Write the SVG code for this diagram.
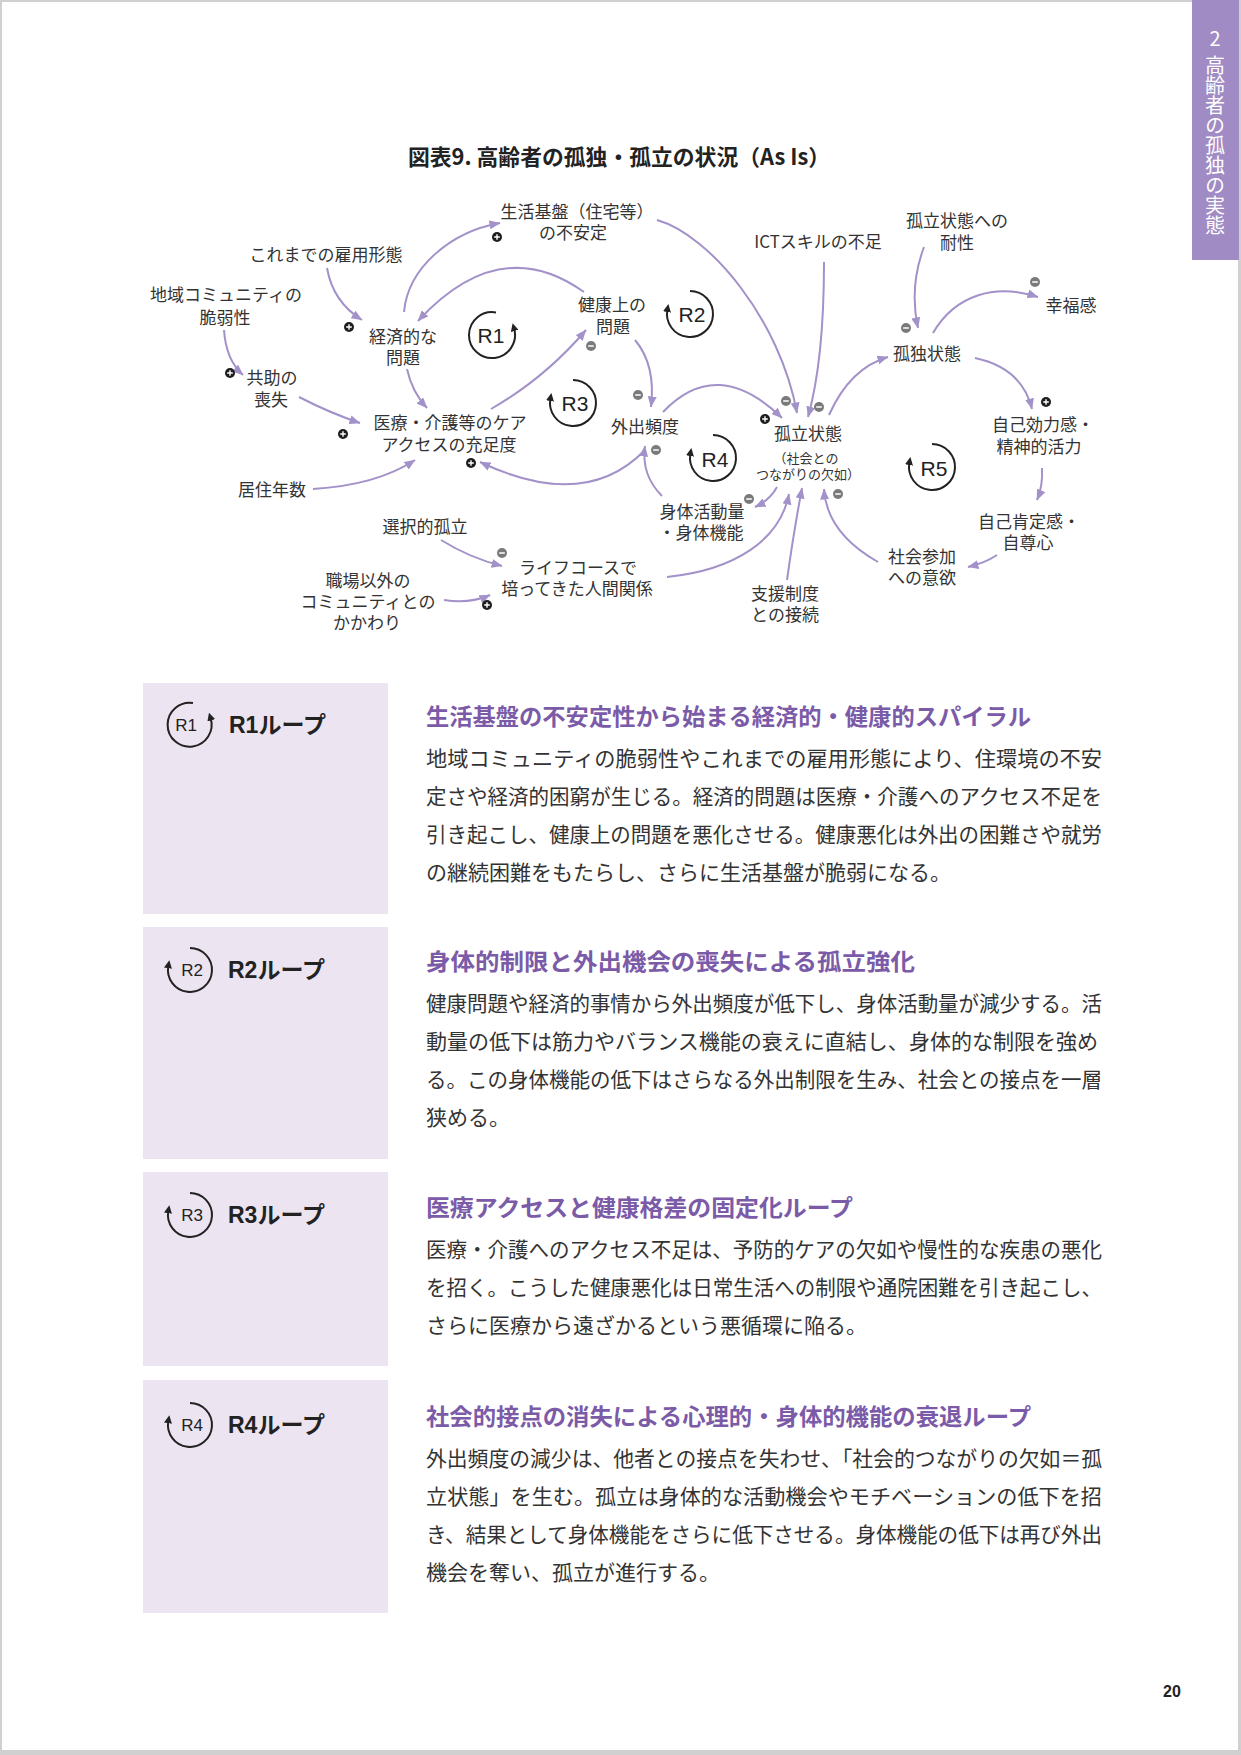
<svg xmlns="http://www.w3.org/2000/svg" width="1241" height="1755" viewBox="0 0 1241 1755">
<style>
.t{font-family:"Noto Sans CJK JP","Noto Sans CJK SC",sans-serif;font-size:17px;fill:#333;text-anchor:middle}
.ts{font-size:13px}
.c{fill:none;stroke:#a391c9;stroke-width:2;marker-end:url(#ah)}
.lp{fill:none;stroke:#222;stroke-width:2;marker-end:url(#lah)}
.rl{font-family:"Liberation Sans",Arial,sans-serif;font-size:21px;fill:#222;text-anchor:middle}
.ri{font-family:"Liberation Sans",Arial,sans-serif;font-size:17px;fill:#222;text-anchor:middle}
.box{fill:#ece4f0}
.lab{font-family:"Liberation Sans","Noto Sans CJK JP",sans-serif;font-size:23px;font-weight:700;fill:#222}
.h{font-family:"Noto Sans CJK JP",sans-serif;font-size:23px;font-weight:700;fill:#7b5ba8}
.b{font-family:"Noto Sans CJK JP",sans-serif;font-size:21px;fill:#333}
</style>
<defs>
<marker id="ah" viewBox="0 0 11 9" refX="10.5" refY="4.5" markerWidth="11" markerHeight="9" markerUnits="userSpaceOnUse" orient="auto"><path d="M0,0 L11,4.5 L0,9 z" fill="#a391c9"/></marker>
<marker id="lah" viewBox="0 0 8 8" refX="2" refY="4" markerWidth="8" markerHeight="8" markerUnits="userSpaceOnUse" orient="auto"><path d="M0,0 L8,4 L0,8 z" fill="#222"/></marker>
<g id="pl"><circle r="5" fill="#1e1e1e"/><path d="M-2.8,0H2.8M0,-2.8V2.8" stroke="#fff" stroke-width="1.4"/></g>
<g id="mi"><circle r="5" fill="#7a7a7a"/><path d="M-2.8,0H2.8" stroke="#fff" stroke-width="1.5"/></g>
</defs>

<rect x="0" y="0" width="1241" height="1755" fill="#d0d0d0"/>
<rect x="2" y="2" width="1236" height="1748" fill="#fff"/>

<g id="tab">
<rect x="1192" y="0" width="47" height="260" fill="#a18bc4"/>
<text x="1215" y="46" font-family="Noto Sans CJK JP,sans-serif" font-size="20" fill="#fff" text-anchor="middle">2</text>
<text x="1215" y="55" font-family="Noto Sans CJK JP,sans-serif" font-size="20" fill="#fff" style="writing-mode:vertical-rl;text-orientation:upright">高齢者の孤独の実態</text>
</g>

<text id="title" x="408" y="165" font-family="Noto Sans CJK JP,sans-serif" font-size="22" font-weight="700" fill="#222" textLength="422" lengthAdjust="spacingAndGlyphs">図表9. 高齢者の孤独・孤立の状況（As Is）</text>

<g id="connectors">
<path class="c" d="M327,268 Q333,302 362,320"/>
<path class="c" d="M224,330 Q226,360 243,375"/>
<path class="c" d="M299,397 Q330,413 360,423"/>
<path class="c" d="M313,489 Q377,485 415,460"/>
<path class="c" d="M407,369 Q412,392 427,408"/>
<path class="c" d="M404,312 C408,268 450,232 500,223"/>
<path class="c" d="M584,292 Q500,232 418,321"/>
<path class="c" d="M491,409 Q545,378 586,330"/>
<path class="c" d="M635,340 Q656,365 651,407"/>
<path class="c" d="M645,450 Q585,512 480,462"/>
<path class="c" d="M662,496 Q641,475 645,446"/>
<path class="c" d="M663,412 Q717,355 782,418"/>
<path class="c" d="M657,220 C710,235 780,320 797,413"/>
<path class="c" d="M824,262 Q824,360 808,417"/>
<path class="c" d="M829,415 Q850,368 888,357"/>
<path class="c" d="M924,247 Q909,287 918,328"/>
<path class="c" d="M933,333 C955,295 995,283 1038,297"/>
<path class="c" d="M975,358 Q1022,368 1032,409"/>
<path class="c" d="M1042,468 Q1043,486 1037,500"/>
<path class="c" d="M997,555 Q985,563 968,567"/>
<path class="c" d="M878,562 C848,545 826,522 824,489"/>
<path class="c" d="M777,487 Q770,500 755,507"/>
<path class="c" d="M667,577 C735,570 780,540 789,494"/>
<path class="c" d="M787,580 Q794,530 802,488"/>
<path class="c" d="M441,540 Q470,558 502,566"/>
<path class="c" d="M444,600 Q470,604 490,595"/>
</g>

<g id="signs">
<use href="#pl" x="497" y="237"/>
<use href="#pl" x="349" y="327"/>
<use href="#pl" x="230" y="373"/>
<use href="#pl" x="343" y="434"/>
<use href="#pl" x="471" y="463"/>
<use href="#mi" x="591" y="346"/>
<use href="#mi" x="638" y="395"/>
<use href="#mi" x="656" y="450"/>
<use href="#mi" x="786" y="401"/>
<use href="#mi" x="819" y="407"/>
<use href="#pl" x="765" y="419"/>
<use href="#mi" x="906" y="328"/>
<use href="#mi" x="1035" y="282"/>
<use href="#pl" x="1046" y="402"/>
<use href="#mi" x="749" y="499"/>
<use href="#mi" x="838" y="494"/>
<use href="#mi" x="502" y="553"/>
<use href="#pl" x="487" y="605"/>
</g>

<g id="loops">
<g id="R1"><path class="lp" d="M496,312.4 A23,23 0 1 0 514.2,329"/><text class="rl" x="491" y="342.5">R1</text></g>
<g id="R2"><path class="lp" d="M690,291 A23,23 0 1 1 667.35,310"/><text class="rl" x="692" y="321.5">R2</text></g>
<g id="R3"><path class="lp" d="M573,380 A23,23 0 1 1 550.35,399"/><text class="rl" x="575" y="410.5">R3</text></g>
<g id="R4"><path class="lp" d="M713,435 A23,23 0 1 1 690.35,454"/><text class="rl" x="715" y="466.5">R4</text></g>
<g id="R5"><path class="lp" d="M932,444 A23,23 0 1 1 909.35,463"/><text class="rl" x="934" y="475.5">R5</text></g>
</g>

<g id="n_seikatsu"><text class="t" x="577" y="218">生活基盤（住宅等）<tspan x="573" dy="21">の不安定</tspan></text></g>
<g id="n_koyou"><text class="t" x="326" y="261">これまでの雇用形態</text></g>
<g id="n_chiiki"><text class="t" x="226" y="301">地域コミュニティの<tspan x="225" dy="23">脆弱性</tspan></text></g>
<g id="n_keizai"><text class="t" x="403" y="343">経済的な<tspan x="403" dy="21">問題</tspan></text></g>
<g id="n_kyojo"><text class="t" x="272" y="384">共助の<tspan x="271" dy="22">喪失</tspan></text></g>
<g id="n_iryo"><text class="t" x="450" y="429">医療・介護等のケア<tspan x="449" dy="22">アクセスの充足度</tspan></text></g>
<g id="n_kyoju"><text class="t" x="272" y="496">居住年数</text></g>
<g id="n_kenko"><text class="t" x="612" y="311">健康上の<tspan x="613" dy="22">問題</tspan></text></g>
<g id="n_gaishutsu"><text class="t" x="645" y="433">外出頻度</text></g>
<g id="n_ict"><text class="t" x="818" y="248">ICTスキルの不足</text></g>
<g id="n_taisei"><text class="t" x="957" y="227">孤立状態への<tspan x="957" dy="22">耐性</tspan></text></g>
<g id="n_koritsu"><text class="t" x="808" y="440">孤立状態<tspan class="ts" x="806" dy="23">（社会との</tspan><tspan class="ts" x="808" dy="16">つながりの欠如）</tspan></text></g>
<g id="n_kodoku"><text class="t" x="927" y="360">孤独状態</text></g>
<g id="n_kofuku"><text class="t" x="1071" y="312">幸福感</text></g>
<g id="n_jiko"><text class="t" x="1043" y="431">自己効力感・<tspan x="1039" dy="22">精神的活力</tspan></text></g>
<g id="n_kotei"><text class="t" x="1029" y="528">自己肯定感・<tspan x="1028" dy="21">自尊心</tspan></text></g>
<g id="n_sanka"><text class="t" x="922" y="563">社会参加<tspan x="922" dy="21">への意欲</tspan></text></g>
<g id="n_shintai"><text class="t" x="702" y="518">身体活動量<tspan x="701" dy="21">・身体機能</tspan></text></g>
<g id="n_shien"><text class="t" x="785" y="600">支援制度<tspan x="785" dy="21">との接続</tspan></text></g>
<g id="n_sentaku"><text class="t" x="425" y="533">選択的孤立</text></g>
<g id="n_lifecourse"><text class="t" x="578" y="574">ライフコースで<tspan x="577" dy="21">培ってきた人間関係</tspan></text></g>
<g id="n_shokuba"><text class="t" x="368" y="587">職場以外の<tspan x="368" dy="21">コミュニティとの</tspan><tspan x="367" dy="21">かかわり</tspan></text></g>

<g id="sec1">
<rect class="box" x="143" y="683" width="245" height="231"/>
<path class="lp" d="M193,703 A22,22 0 1 0 210.7,718.4"/><text class="ri" x="186" y="731">R1</text>
<text class="lab" x="229" y="733">R1ループ</text>
<text class="h" x="426" y="725" textLength="605" lengthAdjust="spacingAndGlyphs">生活基盤の不安定性から始まる経済的・健康的スパイラル</text>
<text class="b" x="426" y="766" textLength="676" lengthAdjust="spacingAndGlyphs">地域コミュニティの脆弱性やこれまでの雇用形態により、住環境の不安</text>
<text class="b" x="426" y="804" textLength="676" lengthAdjust="spacingAndGlyphs">定さや経済的困窮が生じる。経済的問題は医療・介護へのアクセス不足を</text>
<text class="b" x="426" y="842" textLength="676" lengthAdjust="spacingAndGlyphs">引き起こし、健康上の問題を悪化させる。健康悪化は外出の困難さや就労</text>
<text class="b" x="426" y="880">の継続困難をもたらし、さらに生活基盤が脆弱になる。</text>
</g>

<g id="sec2">
<rect class="box" x="143" y="927" width="245" height="232"/>
<path class="lp" d="M190,948 A22,22 0 1 1 168.3,966.2"/><text class="ri" x="192" y="976">R2</text>
<text class="lab" x="228" y="978">R2ループ</text>
<text class="h" x="426" y="970" textLength="489" lengthAdjust="spacingAndGlyphs">身体的制限と外出機会の喪失による孤立強化</text>
<text class="b" x="426" y="1011" textLength="676" lengthAdjust="spacingAndGlyphs">健康問題や経済的事情から外出頻度が低下し、身体活動量が減少する。活</text>
<text class="b" x="426" y="1049" textLength="672" lengthAdjust="spacingAndGlyphs">動量の低下は筋力やバランス機能の衰えに直結し、身体的な制限を強め</text>
<text class="b" x="426" y="1087" textLength="676" lengthAdjust="spacingAndGlyphs">る。この身体機能の低下はさらなる外出制限を生み、社会との接点を一層</text>
<text class="b" x="426" y="1125">狭める。</text>
</g>

<g id="sec3">
<rect class="box" x="143" y="1172" width="245" height="194"/>
<path class="lp" d="M190,1193 A22,22 0 1 1 168.3,1211.2"/><text class="ri" x="192" y="1221">R3</text>
<text class="lab" x="228" y="1223">R3ループ</text>
<text class="h" x="426" y="1216" textLength="427" lengthAdjust="spacingAndGlyphs">医療アクセスと健康格差の固定化ループ</text>
<text class="b" x="426" y="1257" textLength="676" lengthAdjust="spacingAndGlyphs">医療・介護へのアクセス不足は、予防的ケアの欠如や慢性的な疾患の悪化</text>
<text class="b" x="426" y="1295" textLength="676" lengthAdjust="spacingAndGlyphs">を招く。こうした健康悪化は日常生活への制限や通院困難を引き起こし、</text>
<text class="b" x="426" y="1333">さらに医療から遠ざかるという悪循環に陥る。</text>
</g>

<g id="sec4">
<rect class="box" x="143" y="1380" width="245" height="233"/>
<path class="lp" d="M190,1403 A22,22 0 1 1 168.3,1421.2"/><text class="ri" x="192" y="1431">R4</text>
<text class="lab" x="228" y="1433">R4ループ</text>
<text class="h" x="426" y="1425" textLength="605" lengthAdjust="spacingAndGlyphs">社会的接点の消失による心理的・身体的機能の衰退ループ</text>
<text class="b" x="426" y="1466" textLength="676" lengthAdjust="spacingAndGlyphs">外出頻度の減少は、他者との接点を失わせ、「社会的つながりの欠如＝孤</text>
<text class="b" x="426" y="1504" textLength="676" lengthAdjust="spacingAndGlyphs">立状態」を生む。孤立は身体的な活動機会やモチベーションの低下を招</text>
<text class="b" x="426" y="1542" textLength="676" lengthAdjust="spacingAndGlyphs">き、結果として身体機能をさらに低下させる。身体機能の低下は再び外出</text>
<text class="b" x="426" y="1580">機会を奪い、孤立が進行する。</text>
</g>

<text id="pageno" x="1172" y="1697" font-family="Liberation Sans,Arial,sans-serif" font-size="16" font-weight="700" fill="#222" text-anchor="middle">20</text>
</svg>
